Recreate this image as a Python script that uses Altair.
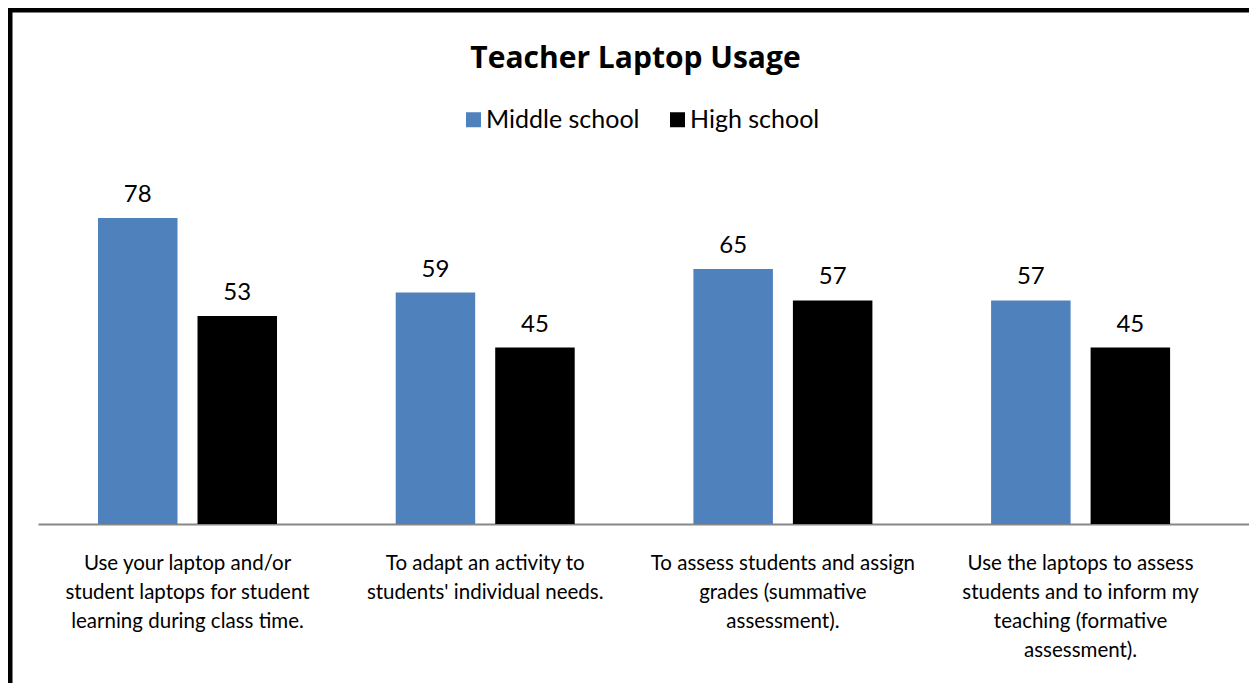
import altair as alt
import pandas as pd

categories = [
    "Use your laptop and/or\nstudent laptops for student\nlearning during class time.",
    "To adapt an activity to\nstudents' individual needs.",
    "To assess students  and assign\ngrades (summative\nassessment).",
    "Use the laptops to assess\nstudents and to inform my\nteaching (formative\nassessment).",
]
series = ["Middle school", "High school"]
middle_school = [78, 59, 65, 57]
high_school = [53, 45, 57, 45]
colors = ["#4F81BD", "#000000"]

rows = []
for i, c in enumerate(categories):
    rows.append({"category": c, "group": series[0], "value": middle_school[i]})
    rows.append({"category": c, "group": series[1], "value": high_school[i]})
df = pd.DataFrame(rows)

FONT = "Lato"

x_enc = alt.X(
    "category:N",
    sort=categories,
    title=None,
    scale=alt.Scale(paddingInner=0.3987, paddingOuter=0.2333, align=0.432),
    axis=alt.Axis(
        labelExpr="split(datum.label, '\\n')",
        labelAngle=0,
        labelFont=FONT,
        labelFontSize=20.5,
        labelColor="#000000",
        labelLineHeight=29,
        labelLimit=0,
        labelPadding=29,
        labelBaseline="top",
        labelOverlap=False,
        ticks=False,
        domainColor="#878787",
        domainWidth=2,
    ),
)
xoff = alt.XOffset("group:N", sort=series, scale=alt.Scale(paddingInner=0.201, paddingOuter=0))
y_enc = alt.Y("value:Q", scale=alt.Scale(domain=[0, 90]), axis=None)
color_enc = alt.Color(
    "group:N",
    sort=series,
    scale=alt.Scale(domain=series, range=colors),
    legend=alt.Legend(
        title=None,
        orient="none",
        direction="horizontal",
        legendX=423,
        legendY=-64,
        symbolType="square",
        symbolSize=225,
        symbolStrokeWidth=0,
        labelFont=FONT,
        labelFontSize=25,
        labelColor="#000000",
        columnPadding=25,
        labelOffset=0,
    ),
)

bars = alt.Chart(df).mark_bar().encode(x=x_enc, xOffset=xoff, y=y_enc, color=color_enc)

labels = alt.Chart(df).mark_text(
    baseline="bottom", dy=-11, font=FONT, fontSize=24, color="#000000"
).encode(x=x_enc, xOffset=xoff, y=y_enc, text=alt.Text("value:Q"))

frame = alt.Chart(alt.Data(values=[{}])).mark_rect(
    fill=None, stroke="#000000", strokeWidth=5
).encode(
    x=alt.value(-28), x2=alt.value(1300), y=alt.value(-161), y2=alt.value(700)
)

chart = alt.layer(bars, labels, frame).properties(
    width=1211,
    height=353,
    background="#FFFFFF",
    autosize=alt.AutoSizeParams(type="none"),
    padding={"left": 30, "top": 163, "right": 0, "bottom": 159},
    title=alt.TitleParams(
        "Teacher Laptop Usage",
        font="Open Sans",
        fontSize=30,
        fontWeight="bold",
        color="#000000",
        anchor="middle",
        frame="group",
        baseline="alphabetic",
        offset=-90,
        dx=-8,
    ),
).configure_view(stroke="transparent", strokeWidth=0)

chart.save("out.html", embed_options={"renderer": "svg", "actions": False})
